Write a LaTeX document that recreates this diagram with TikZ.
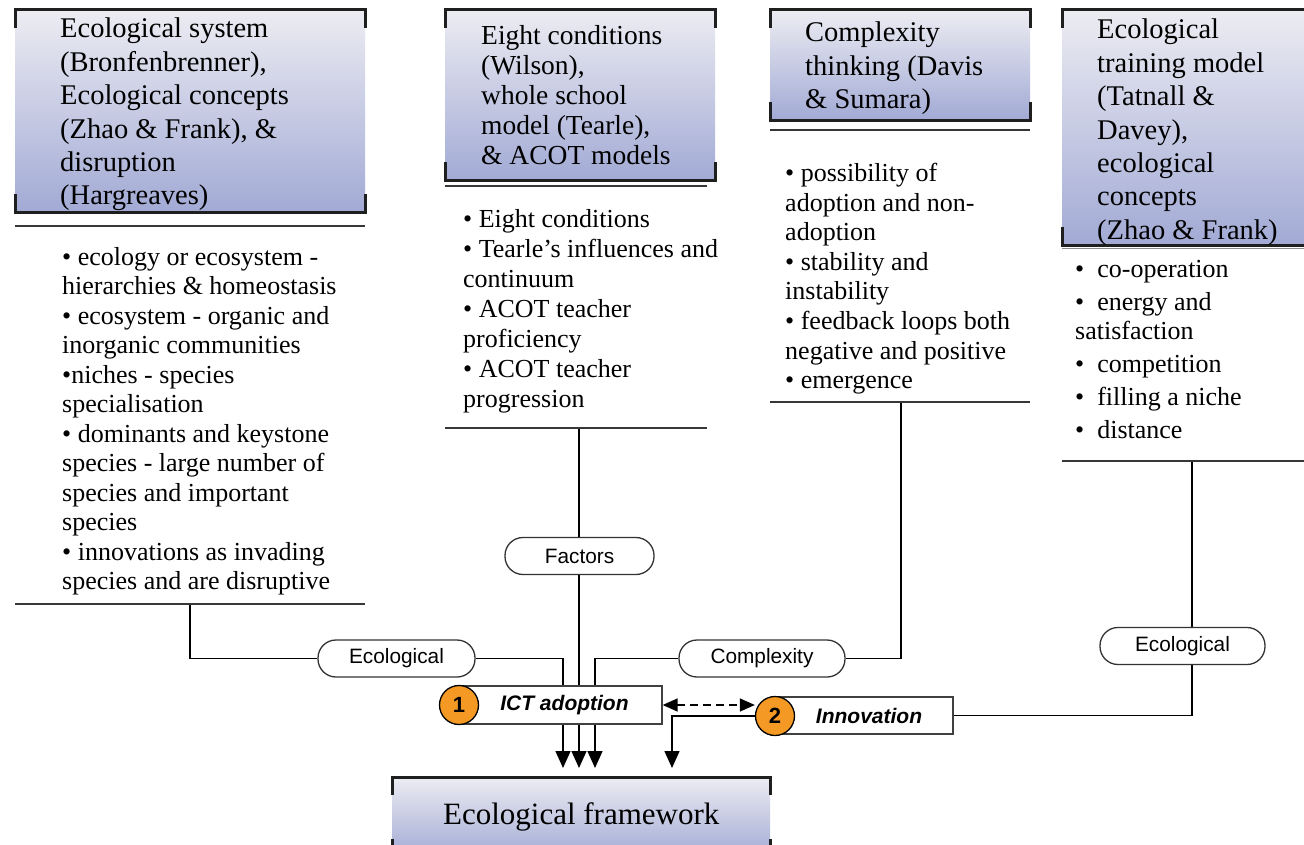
\documentclass[tikz,border=0pt]{standalone}
\usepackage{fontspec}
\setmainfont{Liberation Serif}
\setsansfont{Liberation Sans}
\usetikzlibrary{arrows.meta,backgrounds}

\definecolor{hdrtop}{RGB}{236,236,242}
\definecolor{hdrbot}{RGB}{162,170,213}
\definecolor{badgecol}{RGB}{244,154,36}
\definecolor{rulecol}{RGB}{55,55,55}

\begin{document}
\begin{tikzpicture}[x=1pt,y=-1pt,
  hdrbox/.style={rectangle, inner sep=0, top color=hdrtop, bottom color=hdrbot, anchor=north west},
  hdrline/.style={line width=3pt, black!88},
  sepline/.style={line width=1.8pt, rulecol},
  hdrtext/.style={anchor=north west, align=left, inner sep=0, font=\fontsize{28.5}{33.4}\selectfont},
  bultext/.style={anchor=north west, align=left, inner sep=0, font=\fontsize{26}{29.5}\selectfont},
  pill/.style={draw=black!80, line width=1.3pt, fill=white, rounded corners=18pt, minimum height=37, inner sep=0, font=\sffamily\fontsize{20.8}{24}\selectfont},
  stage/.style={draw=black!75, line width=1.3pt, fill=white, minimum height=38, inner sep=0, font=\sffamily\bfseries\itshape\fontsize{21}{24}\selectfont},
  badge/.style={circle, draw=black, line width=1.3pt, fill=badgecol, minimum size=39, inner sep=0, font=\sffamily\bfseries\fontsize{22}{24}\selectfont},
  link/.style={line width=1.4pt, black},
  arr/.style={link, -{Triangle[width=15pt,length=17pt]}},
  darr/.style={link, dash pattern=on 8pt off 5pt, {Triangle[width=13pt,length=15pt]}-{Triangle[width=13pt,length=15pt]}}
]
\useasboundingbox (0,0) rectangle (1304,845);
\clip (0,0) rectangle (1304,845);

% ---------- heading boxes ----------
\node[hdrbox, minimum width=350, minimum height=202] (h1) at (15,10) {};
\node[hdrbox, minimum width=270, minimum height=170] (h2) at (445,10) {};
\node[hdrbox, minimum width=260, minimum height=110] (h3) at (770,10) {};
\node[hdrbox, minimum width=260, minimum height=235] (h4) at (1062,10) {};
\node[hdrbox, minimum width=378, minimum height=80, font=\fontsize{31}{36}\selectfont] (fw) at (392,777) {\raisebox{-2pt}{Ecological framework}};

\foreach \b in {h1,h2,h3,h4,fw} {
  \draw[hdrline] ([yshift=-18pt]\b.north west) -- (\b.north west) -- (\b.north east) -- ([yshift=-18pt]\b.north east);
  \draw[hdrline] ([yshift=18pt]\b.south west) -- (\b.south west) -- (\b.south east) -- ([yshift=18pt]\b.south east);
}

\node[hdrtext] (t1) at (60,18) {Ecological system\\(Bronfenbrenner),\\Ecological concepts\\(Zhao \& Frank), \&\\disruption\\(Hargreaves)};
\node[hdrtext, font=\fontsize{27.5}{30}\selectfont] (t2) at (481,25) {Eight conditions\\(Wilson),\\whole school\\model (Tearle),\\\& ACOT models};
\node[hdrtext] (t3) at (805,22) {Complexity\\thinking (Davis\\\& Sumara)};
\node[hdrtext] (t4) at (1097,19) {Ecological\\training model\\(Tatnall \&\\Davey),\\ecological\\concepts\\(Zhao \& Frank)};

% ---------- rules around the bullet lists ----------
\draw[sepline] (15,226) -- (365,226);
\draw[sepline] (15,604) -- (365,604);
\draw[sepline] (445,186) -- (707,186);
\draw[sepline] (445,428) -- (707,428);
\draw[sepline] (770,130) -- (1030,130);
\draw[sepline] (770,402) -- (1030,402);
\draw[line width=1pt, black!45] (1062,249) -- (1304,249);
\draw[sepline] (1062,461) -- (1304,461);

% ---------- bullet lists ----------
\node[bultext] (b1) at (62,247) {• ecology or ecosystem -\\hierarchies \& homeostasis\\• ecosystem - organic and\\inorganic communities\\•niches - species\\specialisation\\• dominants and keystone\\species - large number of\\species and important\\species\\• innovations as invading\\species and are disruptive};
\node[bultext, font=\fontsize{26}{30}\selectfont] (b2) at (463,209) {• Eight conditions\\• Tearle's influences and\\continuum\\• ACOT teacher\\proficiency\\• ACOT teacher\\progression};
\node[bultext, font=\fontsize{26}{29.6}\selectfont] (b3) at (785,163) {• possibility of\\adoption and non-\\adoption\\• stability and\\instability\\• feedback loops both\\negative and positive\\• emergence};
\node[bultext, font=\fontsize{26}{29.3}\selectfont] (b4) at (1075,260) {•\hspace{13pt}co-operation\\[3.7pt]•\hspace{13pt}energy and\\satisfaction\\[3.7pt]•\hspace{13pt}competition\\[3.7pt]•\hspace{13pt}filling a niche\\[3.7pt]•\hspace{13pt}distance};

% ---------- labels, stages and badges ----------
\node[pill, minimum width=157] (pl) at (396.5,658.5) {Ecological};
\node[pill, minimum width=149] (pf) at (579.5,556) {Factors};
\node[pill, minimum width=166] (pc) at (762,658.5) {Complexity};
\node[pill, minimum width=165] (pr) at (1182.5,646) {Ecological};

\node[stage, minimum width=203] (ict) at (560.5,705) {\hspace{8pt}ICT adoption};
\node[stage, minimum width=178, minimum height=37] (inn) at (864,715.5) {\hspace{10pt}Innovation};
\node[badge] (c1) at (459,705) {1};
\node[badge] (c2) at (775,716) {2};

% ---------- connectors ----------
\coordinate (e1) at (190,604);
\coordinate (e2) at (579,428);
\coordinate (e3) at (901,402);
\coordinate (e4) at (1192,461);
\coordinate (ka) at (563,0);
\coordinate (kc) at (595,0);
\coordinate (kd) at (672,0);

\begin{pgfonlayer}{background}
  \fill[white] (0,0) rectangle (1304,845);
  \draw[link] (e1) |- (pl.west);
  \draw[link] (pl.east) -| (ict.north -| ka);
  \draw[link] (e2) -- (pf.north -| e2);
  \draw[link] (pf.south -| e2) -- (ict.north -| e2);
  \draw[link] (e3) |- (pc.east);
  \draw[link] (pc.west) -| (ict.north -| kc);
  \draw[link] (e4) |- (inn.east);
  \draw[arr, shorten >=9pt] (ict.south -| ka) -- (fw.north -| ka);
  \draw[arr, shorten >=9pt] (ict.south -| e2) -- (fw.north -| e2);
  \draw[arr, shorten >=9pt] (ict.south -| kc) -- (fw.north -| kc);
  \draw[arr, shorten >=9pt] (c2.west) -| (fw.north -| kd);
  \draw[darr] (ict.east) -- (ict.east -| c2.west);
\end{pgfonlayer}
\end{tikzpicture}
\end{document}
